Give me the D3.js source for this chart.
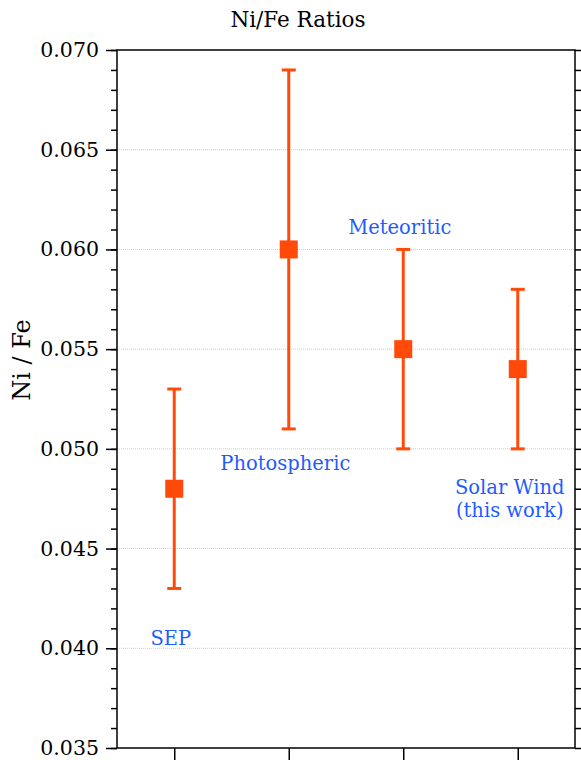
<!DOCTYPE html>
<html>
<head>
<meta charset="utf-8">
<script src="https://cdn.jsdelivr.net/npm/d3@7"></script>
<style>
  body { margin: 0; background: #fff; }
  svg { display: block; font-family: "DejaVu Serif", serif; }
</style>
</head>
<body>
<div id="plot"></div>
<script>
// data
const categories = ["SEP", "Photospheric", "Meteoritic", "Solar Wind"];
const ratios = [0.048, 0.060, 0.055, 0.054];
const lowErr = [0.043, 0.051, 0.050, 0.050];
const highErr = [0.053, 0.069, 0.060, 0.058];
// label text lines and anchor (category index, value)
const labelLines = [["SEP"], ["Photospheric"], ["Meteoritic"], ["Solar Wind", "(this work)"]];
const labelX = [0.97, 1.97, 2.97, 3.93];
const labelY = [0.0405, 0.0493, 0.0611, 0.0481];
const yTicks = [0.035, 0.040, 0.045, 0.050, 0.055, 0.060, 0.065, 0.070];

const margin = { top: 50, right: 6, bottom: 12, left: 117 };
const width = 581 - margin.left - margin.right;
const height = 760 - margin.top - margin.bottom;

const svg = d3.select("#plot").append("svg")
  .attr("width", 581)
  .attr("height", 760);

const g = svg.append("g")
  .attr("transform", "translate(" + margin.left + "," + margin.top + ")");

const xScale = d3.scaleLinear().domain([0.5, 4.5]).range([0, width]);
const yScale = d3.scaleLinear().domain([0.035, 0.070]).range([height, 0]);

const minorTicks = d3.range(35, 71).map(d => d / 1000);

// dotted grid lines
g.selectAll(".grid")
  .data(yTicks.slice(1, -1))
  .enter().append("line")
  .attr("x1", 0).attr("x2", width)
  .attr("y1", d => yScale(d)).attr("y2", d => yScale(d))
  .attr("stroke", "#cfcfcf")
  .attr("stroke-width", 1)
  .attr("stroke-dasharray", "1,1");

// left axis with minor ticks
g.append("g")
  .call(d3.axisLeft(yScale).tickValues(minorTicks).tickSize(6).tickFormat(""))
  .call(a => a.select(".domain").remove());
const leftAxis = g.append("g")
  .call(d3.axisLeft(yScale).tickValues(yTicks).tickSize(11).tickPadding(7).tickFormat(d3.format(".3f")));
leftAxis.select(".domain").remove();
leftAxis.selectAll("text").attr("font-size", 20.5).attr("font-family", "DejaVu Serif").attr("fill", "#000");

// right axis minor ticks
g.append("g")
  .attr("transform", "translate(" + width + ",0)")
  .call(d3.axisRight(yScale).tickValues(minorTicks).tickSize(6).tickFormat(""))
  .call(a => a.select(".domain").remove());

// bottom axis ticks
g.append("g")
  .attr("transform", "translate(0," + height + ")")
  .call(d3.axisBottom(xScale).tickValues([1, 2, 3, 4]).tickSize(12).tickFormat(""))
  .call(a => a.select(".domain").remove());

g.selectAll(".tick line").attr("stroke", "#000").attr("stroke-width", 1.5);

// frame
g.append("rect")
  .attr("width", width).attr("height", height)
  .attr("fill", "none").attr("stroke", "#000").attr("stroke-width", 1.5);

// error bars
const color = "#ff4a0a";
const pts = categories.map((c, i) => ({ i: i + 1, v: ratios[i], lo: lowErr[i], hi: highErr[i] }));

g.selectAll(".err")
  .data(pts)
  .enter().append("line")
  .attr("x1", d => xScale(d.i)).attr("x2", d => xScale(d.i))
  .attr("y1", d => yScale(d.lo)).attr("y2", d => yScale(d.hi))
  .attr("stroke", color).attr("stroke-width", 3);

["lo", "hi"].forEach(k => {
  g.selectAll(".cap-" + k)
    .data(pts)
    .enter().append("line")
    .attr("x1", d => xScale(d.i) - 7).attr("x2", d => xScale(d.i) + 7)
    .attr("y1", d => yScale(d[k])).attr("y2", d => yScale(d[k]))
    .attr("stroke", color).attr("stroke-width", 3);
});

g.selectAll(".marker")
  .data(pts)
  .enter().append("rect")
  .attr("x", d => xScale(d.i) - 9).attr("y", d => yScale(d.v) - 9)
  .attr("width", 18).attr("height", 18)
  .attr("fill", color);

// labels
categories.forEach((c, i) => {
  const t = g.append("text")
    .attr("x", xScale(labelX[i]))
    .attr("y", yScale(labelY[i]))
    .attr("text-anchor", "middle")
    .attr("font-size", 19.5)
    .attr("fill", "#1f5bff");
  labelLines[i].forEach((line, j) => {
    t.append("tspan")
      .attr("x", xScale(labelX[i]))
      .attr("dy", j === 0 ? "0.35em" : "1.2em")
      .text(line);
  });
});

// title
svg.append("text")
  .attr("x", 298).attr("y", 27)
  .attr("text-anchor", "middle")
  .attr("font-size", 21.5)
  .text("Ni/Fe Ratios");

// y label
svg.append("text")
  .attr("transform", "translate(30,360) rotate(-90)")
  .attr("text-anchor", "middle")
  .attr("font-size", 24)
  .text("Ni / Fe");
</script>
</body>
</html>
